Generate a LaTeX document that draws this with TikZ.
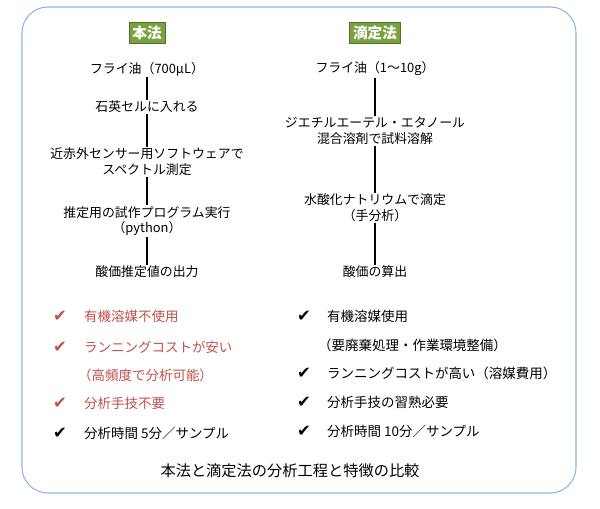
\documentclass[tikz,border=0pt]{standalone}
\usepackage{fontspec}
\setmainfont{Noto Sans CJK JP}
\newfontfamily\symf{DejaVu Sans}
\begin{document}
\begin{tikzpicture}[x=0.03cm,y=-0.03cm,
  stepbox/.style={font=\fontsize{11}{13.5}\selectfont,align=center,inner sep=1pt},
  hdr/.style={fill=hdrgreen,draw=hdrgreen!70!black,text=white,font=\fontsize{12.5}{14}\selectfont\bfseries,inner sep=3pt},
  link/.style={line width=1pt},
  pt/.style={font=\fontsize{11.5}{13}\selectfont,anchor=west,inner sep=0pt},
  ck/.style={font=\symf\bfseries\fontsize{14}{15}\selectfont,inner sep=0pt},
  red/.style={text=redc}]
\definecolor{hdrgreen}{HTML}{78A23E}
\definecolor{redc}{HTML}{C0504D}
\definecolor{framec}{HTML}{8EB4E3}
\useasboundingbox (0,0) rectangle (600,508);
\draw[framec,line width=0.9pt,rounded corners=22] (22,7) rectangle (576,493);
\node[hdr] (h1) at (147,33) {本法};
\node[hdr] (h2) at (375,33) {滴定法};
\node[stepbox] (a1) at (147,69) {フライ油（700μL）};
\node[stepbox] (a2) at (147,107) {石英セルに入れる};
\node[stepbox] (a3) at (147,162) {近赤外センサー用ソフトウェアで\\スペクトル測定};
\node[stepbox] (a4) at (147,221) {推定用の試作プログラム実行\\（python）};
\node[stepbox] (a5) at (147,272) {酸価推定値の出力};
\draw[link] (a1) -- (a2); \draw[link] (a2) -- (a3); \draw[link] (a3) -- (a4); \draw[link] (a4) -- (a5);
\node[stepbox] (b1) at (375,69) {フライ油（1〜10g）};
\node[stepbox] (b2) at (375,131) {ジエチルエーテル・エタノール\\混合溶剤で試料溶解};
\node[stepbox] (b3) at (375,208) {水酸化ナトリウムで滴定\\（手分析）};
\node[stepbox] (b4) at (375,272) {酸価の算出};
\draw[link] (b1) -- (b2); \draw[link] (b2) -- (b3); \draw[link] (b3) -- (b4);
\node[ck,red] (k1) at (60,316) {✔};
\node[pt,red] (c1) at (84,316) {有機溶媒不使用};
\node[ck,red] (k2) at (60,347) {✔};
\node[pt,red] (c2) at (84,347) {ランニングコストが安い};
\node[pt,red] (c3) at (78,375) {（高頻度で分析可能）};
\node[ck,red] (k4) at (60,403) {✔};
\node[pt,red] (c4) at (84,403) {分析手技不要};
\node[ck] (k5) at (60,433) {✔};
\node[pt] (c5) at (84,433) {分析時間 5分／サンプル};
\node[ck] (m1) at (304,316) {✔};
\node[pt] (d1) at (327,316) {有機溶媒使用};
\node[pt] (d2) at (318,345) {（要廃棄処理・作業環境整備）};
\node[ck] (m3) at (304,373) {✔};
\node[pt] (d3) at (327,373) {ランニングコストが高い（溶媒費用）};
\node[ck] (m4) at (304,402) {✔};
\node[pt] (d4) at (327,402) {分析手技の習熟必要};
\node[ck] (m5) at (304,431) {✔};
\node[pt] (d5) at (327,431) {分析時間 10分／サンプル};
\node[font=\fontsize{13}{15}\selectfont] (t) at (290,471) {本法と滴定法の分析工程と特徴の比較};
\end{tikzpicture}
\end{document}
